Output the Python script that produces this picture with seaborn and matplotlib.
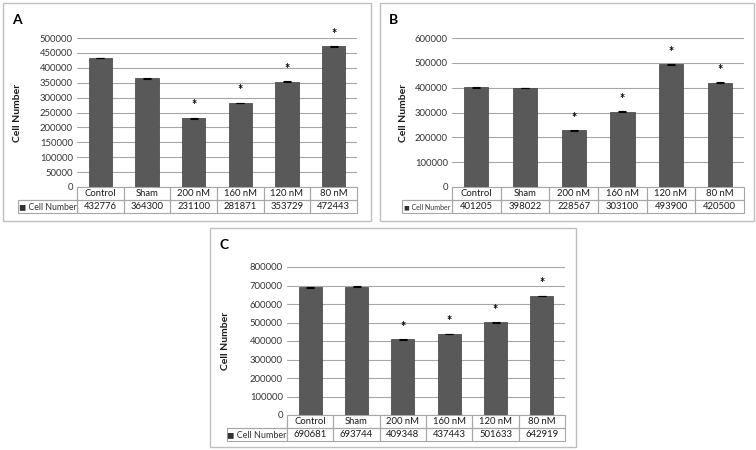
import matplotlib
matplotlib.use("Agg")
import matplotlib.pyplot as plt
import seaborn as sns
import pandas as pd
from matplotlib.patches import Rectangle

# Data
groups = ["Control", "Sham", "200 nM", "160 nM", "120 nM", "80 nM"]
cells_a = [432776, 364300, 231100, 281871, 353729, 472443]
cells_b = [401205, 398022, 228567, 303100, 493900, 420500]
cells_c = [690681, 693744, 409348, 437443, 501633, 642919]
err_a = [1500, 1200, 1500, 1500, 1200, 1500]
err_b = [1500, 1200, 1500, 1500, 1500, 1500]
err_c = [2000, 2000, 2000, 2000, 2000, 2000]
signif = [False, False, True, True, True, True]
series_name = "Cell Number"

W, H = 756, 450
bar_color = "#595959"
grid_color = "#a6a6a6"
text_color = "#1a1a1a"

sns.set_style("white")
plt.rcParams['font.family'] = ['Lato', 'DejaVu Sans']

fig = plt.figure(figsize=(W / 100, H / 100), dpi=100)


def panel(letter, box, plot, label_left, ylabel_x, values, errors, ymax, step, label_size):
    # outer frame of the panel
    bx0, by0, bx1, by1 = box
    fig.patches.append(Rectangle((bx0 / W, 1 - by1 / H), (bx1 - bx0) / W, (by1 - by0) / H,
                                 transform=fig.transFigure, fill=False, ec="#bfbfbf", lw=1))
    fig.text((bx0 + 9) / W, 1 - (by0 + 17) / H, letter, fontsize=10, fontweight="bold",
             ha="left", va="center", color="black")

    left, top, right, bottom = plot
    ax = fig.add_axes([left / W, 1 - bottom / H, (right - left) / W, (bottom - top) / H])
    df = pd.DataFrame({"group": groups, "cells": values})
    sns.barplot(data=df, x="group", y="cells", color=bar_color, saturation=1, width=0.5,
                edgecolor="#3f3f3f", linewidth=0.5, errorbar=None, ax=ax, zorder=2)
    ax.errorbar(range(len(groups)), values, yerr=errors, fmt="none", ecolor="black",
                elinewidth=0.6, capsize=3, capthick=0.8, zorder=3)
    for i, (v, s) in enumerate(zip(values, signif)):
        if s:
            ax.text(i, v + 0.085 * ymax, "*", ha="center", va="center", fontsize=9,
                    fontweight="bold", color="black", clip_on=False)

    ax.set_xlim(-0.5, len(groups) - 0.5)
    ax.set_ylim(0, ymax)
    ax.set_yticks(range(0, ymax + 1, step))
    ax.set_yticklabels([str(t) for t in range(0, ymax + 1, step)], fontsize=6.8, color="#333333")
    ax.set_xticks([])
    ax.set_xlabel("")
    ax.tick_params(axis="y", length=0, pad=3)
    ax.yaxis.grid(True, color=grid_color, lw=0.8)
    ax.set_axisbelow(True)
    for sp in ax.spines.values():
        sp.set_visible(False)
    ax.set_ylabel("Cell Number", fontsize=7.5, fontweight="bold", color=text_color)
    ax.yaxis.set_label_coords((ylabel_x - left) / (right - left), 0.5)

    # data table under the plot
    ah = bottom - top
    aw = right - left
    row_h = 13
    n = len(groups)
    cw = aw / n
    cell_text = [[""] + groups, ["\u25fc " + series_name] + [str(v) for v in values]]
    tbl = ax.table(cellText=cell_text, colWidths=[left - label_left] + [cw] * n,
                   cellLoc="center",
                   bbox=[(label_left - left) / aw, -2 * row_h / ah, (right - label_left) / aw, 2 * row_h / ah])
    tbl.auto_set_font_size(False)
    tbl.set_fontsize(6.8)
    for (r, c), cell in tbl.get_celld().items():
        cell.set_edgecolor(grid_color)
        cell.set_linewidth(0.8)
        cell.get_text().set_color(text_color)
        cell.set_facecolor("none")
    tbl[0, 0].visible_edges = "BR"
    tbl[1, 0].get_text().set_fontsize(label_size)
    tbl[1, 0].get_text().set_color("#333333")
    return ax


panel("A", (3, 3, 371, 221), (77, 38, 357, 187), 18, 22, cells_a, err_a, 500000, 50000, 6.3)
panel("B", (380, 3, 754, 221), (452, 38, 744, 187), 402, 408, cells_b, err_b, 600000, 100000, 5.0)
panel("C", (210, 228, 576, 447), (287, 267, 565, 415), 227, 230, cells_c, err_c, 800000, 100000, 6.5)

fig.savefig("out.png", dpi=100)
